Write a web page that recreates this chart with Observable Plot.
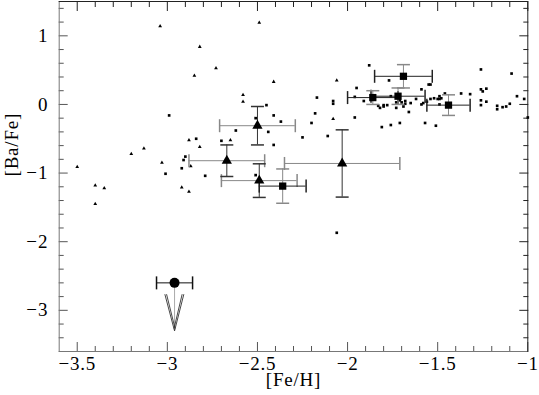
<!DOCTYPE html>
<html><head><meta charset="utf-8">
<script src="https://cdn.jsdelivr.net/npm/d3@7"></script>
<script src="https://cdn.jsdelivr.net/npm/@observablehq/plot@0.6"></script>
<style>body{margin:0;background:#fff}</style>
</head><body><div id="chart"></div>
<script>
// Tick values and labels
const xMajor = [-3.5, -3, -2.5, -2, -1.5, -1];
const xLabels = ["−3.5", "−3", "−2.5", "−2", "−1.5", "−1"];
const yMajor = [-3, -2, -1, 0, 1];
const yLabels = ["−3", "−2", "−1", "0", "1"];
const xMinor = d3.range(-35, -10).map(v => v / 10).filter(v => !xMajor.some(m => Math.abs(m - v) < 1e-9));
const yMinor = d3.range(-17, 8).map(v => v / 5).filter(v => !yMajor.some(m => Math.abs(m - v) < 1e-9));

// Literature: small triangles
const smallTriX = [-3.04,-2.49,-2.82,-2.73,-2.85,-2.58,-2.58,-2.88,-2.82,-3.13,-3.20,-3.03,-2.87,-3.50,-3.40,-3.35,-2.92,-2.88,-3.40,-2.41,-2.06,-2.08,-2.65];
const smallTriY = [1.14,1.19,0.84,0.53,0.42,0.14,0.04,-0.52,-0.62,-0.64,-0.72,-0.85,-0.90,-0.91,-1.18,-1.22,-1.21,-1.27,-1.45,0.33,0.35,-0.21,-0.52];

// Literature: small squares
const smallSqX = [-2.99,-2.51,-2.62,-2.44,-2.84,-2.70,-2.90,-2.91,-2.92,-3.01,-2.79,-2.51,-2.06,
  -1.88,-1.77,-1.95,-1.59,-1.54,-2.17,-2.08,-2.08,-1.96,-2.45,-2.41,-2.37,-2.18,-1.96,-2.20,-2.25,-2.11,-2.41,-1.81,-1.76,-1.71,-1.57,-1.51,
  -1.26,-1.09,-1.26,-1.23,-1.25,-1.37,-1.32,-1.26,-1.23,-1.26,-1.17,-1.17,-1.14,-1.12,-1.10,-1.06,-1.02,-1.00,
  -1.46,-1.49,-1.48,-1.49,-1.49,
  -1.91,-1.83,-1.82,-1.80,-1.80,-1.78,-1.76,-1.73,-1.71,-1.70,-1.68,-1.68,-1.73,-1.69,-1.65,-1.62,-1.66,-1.59,-1.58,-1.56,-1.54,-1.52,-1.50,-1.55];
const smallSqY = [-0.16,-0.20,-0.38,-0.40,-0.50,-0.53,-0.76,-0.81,-0.93,-1.01,-1.04,-1.03,-1.87,
  0.57,0.35,0.24,0.22,0.29,0.10,0.05,0.01,0.11,-0.01,-0.16,-0.25,-0.13,-0.19,-0.27,-0.48,-0.46,-0.59,-0.33,-0.30,-0.27,-0.27,-0.31,
  0.51,0.45,0.22,0.23,0.19,0.16,0.15,0.06,0.04,-0.01,-0.02,-0.07,-0.04,-0.03,0.01,0.12,0.08,-0.19,
  0.16,0.12,0.09,0.08,0.00,
  0.05,-0.02,-0.05,-0.01,-0.03,-0.01,0.12,0.03,0.06,0.03,0.05,0.01,-0.05,-0.03,0.02,0.08,-0.11,0.00,0.02,0.04,0.08,0.09,0.08,0.29];

// Program stars: big triangles with errors
const triX = [-2.50, -2.67, -2.49, -2.03];
const triY = [-0.31, -0.82, -1.11, -0.86];
const triEx = [0.21, 0.21, 0.21, 0.32];
const triEy = [0.28, 0.23, 0.245, 0.49];

// Program stars: big squares with errors
const sqX = [-1.69, -1.86, -1.72, -1.44, -2.36];
const sqY = [0.41, 0.10, 0.12, -0.01, -1.19];
const sqEx = [0.16, 0.14, 0.15, 0.12, 0.13];
const sqEy = [0.17, 0.10, 0.12, 0.15, 0.25];

// Upper limit star
const limX = [-2.96];
const limY = [-2.60];
const limEx = [0.10];
const limTip = [-3.30];

const rows = (xs, ys, exs, eys) => xs.map((x, i) => ({x, y: ys[i], ex: exs ? exs[i] : 0, ey: eys ? eys[i] : 0}));
const smallTri = rows(smallTriX, smallTriY);
const smallSq = rows(smallSqX, smallSqY);
const tri = rows(triX, triY, triEx, triEy);
const sq = rows(sqX, sqY, sqEx, sqEy);
const lim = limX.map((x, i) => ({x, y: limY[i], ex: limEx[i], tip: limTip[i]}));

const capV = {draw(c, s) { const r = Math.sqrt(s / Math.PI); c.moveTo(0, -r); c.lineTo(0, r); }};
const capH = {draw(c, s) { const r = Math.sqrt(s / Math.PI); c.moveTo(-r, 0); c.lineTo(r, 0); }};
const vee = {draw(c) {
  c.moveTo(-9.7, -36.7); c.lineTo(0, 0); c.lineTo(9.3, -36.7);
  c.moveTo(-8.0, -36.7); c.lineTo(0.5, -2.5);
  c.moveTo(7.6, -36.7); c.lineTo(-0.5, -2.5);
}};

function xErr(data, color) {
  return [
    Plot.ruleY(data, {y: "y", x1: d => d.x - d.ex, x2: d => d.x + d.ex, stroke: color}),
    Plot.dot(data, {x: d => d.x - d.ex, y: "y", symbol: capV, r: 6.5, stroke: color, fill: "none"}),
    Plot.dot(data, {x: d => d.x + d.ex, y: "y", symbol: capV, r: 6.5, stroke: color, fill: "none"})
  ];
}
function yErr(data, color) {
  return [
    Plot.ruleX(data, {x: "x", y1: d => d.y - d.ey, y2: d => d.y + d.ey, stroke: color}),
    Plot.dot(data, {x: "x", y: d => d.y - d.ey, symbol: capH, r: 6.5, stroke: color, fill: "none"}),
    Plot.dot(data, {x: "x", y: d => d.y + d.ey, symbol: capH, r: 6.5, stroke: color, fill: "none"})
  ];
}

const serif = "'Liberation Serif', 'Times New Roman', serif";
const tickColor = "#555";
const fmtX = d => xLabels[xMajor.indexOf(d)];
const fmtY = d => yLabels[yMajor.indexOf(d)];

const chart = Plot.plot({
  width: 539,
  height: 395,
  marginLeft: 58.7,
  marginRight: 11.7,
  marginTop: 1,
  marginBottom: 44,
  style: {fontFamily: serif, fontSize: "19px", letterSpacing: "0.8px", background: "#fff", color: "#000"},
  x: {domain: [-3.6, -1]},
  y: {domain: [-3.6, 1.5]},
  marks: [
    // inward ticks on all four sides
    Plot.axisX({ticks: xMajor, anchor: "bottom", tickSize: 9, dy: -9, tickFormat: () => "", stroke: tickColor, label: null}),
    Plot.axisX({ticks: xMinor, anchor: "bottom", tickSize: 5, dy: -5, tickFormat: () => "", stroke: tickColor, label: null}),
    Plot.axisX({ticks: xMajor, anchor: "top", tickSize: 9, dy: 9, tickFormat: () => "", stroke: "#222", label: null}),
    Plot.axisX({ticks: xMinor, anchor: "top", tickSize: 5, dy: 5, tickFormat: () => "", stroke: "#222", label: null}),
    Plot.axisY({ticks: yMajor, anchor: "left", tickSize: 9, dx: 9, tickFormat: () => "", stroke: tickColor, label: null}),
    Plot.axisY({ticks: yMinor, anchor: "left", tickSize: 5, dx: 5, tickFormat: () => "", stroke: tickColor, label: null}),
    Plot.axisY({ticks: yMajor, anchor: "right", tickSize: 9, dx: -9, tickFormat: () => "", stroke: "#222", label: null}),
    Plot.axisY({ticks: yMinor, anchor: "right", tickSize: 5, dx: -5, tickFormat: () => "", stroke: "#222", label: null}),
    // tick labels
    Plot.axisX({ticks: xMajor, anchor: "bottom", tickSize: 0, tickPadding: 5, tickFormat: fmtX, label: null, fill: "#000", fontFamily: serif, fontSize: 19}),
    Plot.axisY({ticks: yMajor, anchor: "left", tickSize: 0, tickPadding: 11, tickFormat: fmtY, label: null, fill: "#000", fontFamily: serif, fontSize: 19}),
    // frame
    Plot.frame({anchor: "left", stroke: "#777"}),
    Plot.frame({anchor: "bottom", stroke: "#777"}),
    Plot.frame({anchor: "top", stroke: "#222"}),
    Plot.frame({anchor: "right", stroke: "#222"}),
    // axis titles
    Plot.text(["[Fe/H]"], {text: d => d, frameAnchor: "bottom", dy: 34, fill: "#000", fontFamily: serif, fontSize: 19}),
    Plot.text(["[Ba/Fe]"], {text: d => d, frameAnchor: "left", rotate: -90, dx: -47, fill: "#000", fontFamily: serif, fontSize: 19}),
    // literature points
    Plot.dot(smallSq, {x: "x", y: "y", symbol: "square", r: 1.5, fill: "#000"}),
    Plot.dot(smallTri, {x: "x", y: "y", symbol: "triangle", r: 1.4, fill: "#000"}),
    // error bars
    ...xErr(tri, "#888"),
    ...yErr(tri, "#333"),
    ...xErr(sq, "#222"),
    ...yErr(sq, "#888"),
    // upper limit
    Plot.ruleX(lim, {x: "x", y1: "y", y2: "tip", stroke: "#aaa"}),
    Plot.dot(lim, {x: "x", y: "tip", symbol: vee, stroke: "#333", strokeWidth: 0.9, fill: "none"}),
    ...xErr(lim, "#111"),
    // program stars
    Plot.dot(tri, {x: "x", y: "y", symbol: "triangle", r: 3.8, fill: "#000"}),
    Plot.dot(sq, {x: "x", y: "y", symbol: "square", r: 4.1, fill: "#000"}),
    Plot.dot(lim, {x: "x", y: "y", r: 5, fill: "#000"})
  ]
});
document.getElementById("chart").appendChild(chart);
</script></body></html>
